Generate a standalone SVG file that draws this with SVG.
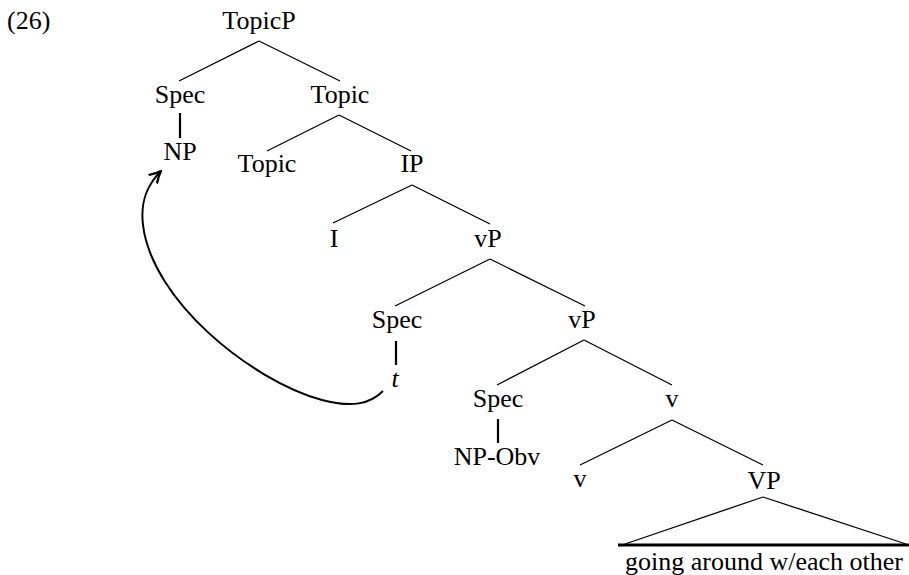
<svg xmlns="http://www.w3.org/2000/svg" width="909" height="575" viewBox="0 0 909 575">
<defs>
<style>
text{font-family:"Liberation Serif","Times New Roman",serif;font-size:26px;fill:#000;text-anchor:middle}
.l{stroke:#000;stroke-width:1.3;fill:none}
.v{stroke:#000;stroke-width:2.2;fill:none}
.it{font-style:italic}
</style>
<marker id="ah" viewBox="0 0 14 14" refX="12" refY="7" markerWidth="14" markerHeight="14" markerUnits="userSpaceOnUse" orient="auto">
<path d="M1,1.5 Q6,5 12,7 Q6,9 1,12.5" fill="none" stroke="#000" stroke-width="2.4" stroke-linecap="round" stroke-linejoin="round"/>
</marker>
</defs>
<rect width="909" height="575" fill="#fff"/>
<text x="7" y="29" style="text-anchor:start">(26)</text>
<g id="connectors">
<path class="l" d="M259,41 L179,81 M259,41 L340,81"/>
<path class="v" d="M180,113 L180,138"/>
<path class="l" d="M339,115 L267,151 M339,115 L411,151"/>
<path class="l" d="M412,185 L333,223 M412,185 L490,224"/>
<path class="l" d="M490,259 L395,306 M490,259 L585,306"/>
<path class="v" d="M396,341 L396,365"/>
<path class="l" d="M584,340 L497,385 M584,340 L672,385"/>
<path class="v" d="M498,419 L498,443"/>
<path class="l" d="M672,420 L580,465 M672,420 L763,465"/>
<path class="l" d="M763,497 L625,544 M763,497 L906,544"/>
<path d="M618,545 L909,545" stroke="#000" stroke-width="3"/>
<path class="v" style="stroke-width:2" d="M383,391 C370,404 352,408 322,400 C250,380 152,300 143,225 C140,200 148,184 161,171" marker-end="url(#ah)"/>
</g>
<g id="n-topicp"><text x="259" y="29">TopicP</text></g>
<g id="n-spec1"><text x="180" y="103">Spec</text></g>
<g id="n-topicbar"><text x="340" y="103">Topic</text></g>
<g id="n-np"><text x="180" y="160">NP</text></g>
<g id="n-topic"><text x="267" y="172">Topic</text></g>
<g id="n-ip"><text x="412" y="172">IP</text></g>
<g id="n-i"><text x="334" y="247">I</text></g>
<g id="n-vp1"><text x="488" y="247">vP</text></g>
<g id="n-spec2"><text x="397" y="328">Spec</text></g>
<g id="n-vp2"><text x="582" y="328">vP</text></g>
<g id="n-t"><text class="it" x="395" y="387">t</text></g>
<g id="n-spec3"><text x="498" y="407">Spec</text></g>
<g id="n-vbar"><text x="672" y="407">v</text></g>
<g id="n-npobv"><text x="497" y="465">NP-Obv</text></g>
<g id="n-v"><text x="580" y="487">v</text></g>
<g id="n-vp3"><text x="764" y="489">VP</text></g>
<g id="n-leaf"><text x="764" y="570">going around w/each other</text></g>
</svg>
